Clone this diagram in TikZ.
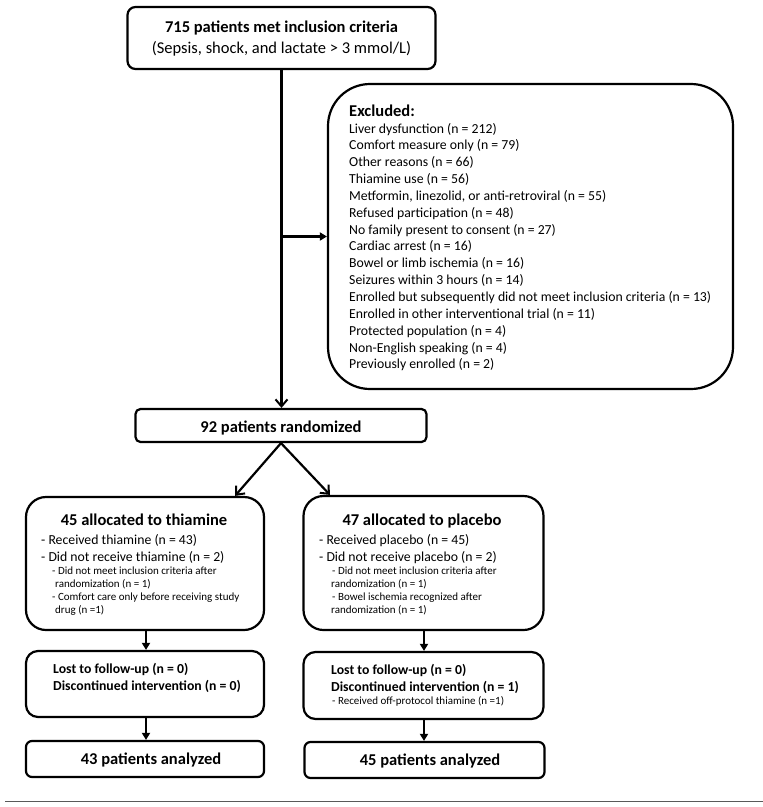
\documentclass[tikz,border=0pt]{standalone}
\usepackage{fontspec}
\setmainfont{Carlito}
\usetikzlibrary{arrows.meta}
\begin{document}
\begin{tikzpicture}[x=1pt,y=-1pt,
  box/.style={draw, line width=2.2pt, inner sep=0pt},
  big/.style={font=\fontsize{16.5}{20}\selectfont\bfseries},
  mid/.style={font=\fontsize{13.75}{16.8}\selectfont},
  midb/.style={font=\fontsize{13.75}{16.8}\selectfont\bfseries},
  small/.style={font=\fontsize{11}{13.5}\selectfont},
  txt/.style={inner sep=0pt, anchor=base west},
  ctxt/.style={inner sep=0pt, anchor=base},
  flow/.style={line width=2.2pt, -{Straight Barb[length=7pt,width=12pt,line width=2pt]}},
  flowf/.style={line width=2.2pt, -{Triangle[length=7pt,width=8pt]}}]
\useasboundingbox (0,0) rectangle (763,807);

% boxes
\node[box, rounded corners=8pt, minimum width=308pt, minimum height=62pt] (top) at (281.5,38) {};
\node[box, rounded corners=42pt, minimum width=405pt, minimum height=305pt] (excl) at (530.5,236.5) {};
\node[box, rounded corners=5pt, minimum width=291pt, minimum height=33pt] (rand) at (281,425.5) {};
\node[box, rounded corners=20pt, minimum width=238pt, minimum height=133pt] (thi) at (145,563.5) {};
\node[box, rounded corners=20pt, minimum width=240pt, minimum height=134pt] (pla) at (423.5,563) {};
\node[box, rounded corners=12pt, minimum width=238pt, minimum height=66pt] (lt) at (145,684) {};
\node[box, rounded corners=12pt, minimum width=240pt, minimum height=67pt] (lp) at (423.5,685.5) {};
\node[box, rounded corners=6pt, minimum width=238pt, minimum height=36pt] (ft) at (145,759) {};
\node[box, rounded corners=6pt, minimum width=240pt, minimum height=36pt] (fp) at (424.5,760) {};

% texts
\node[ctxt, big] (toptitle) at (281.5,32) {715 patients met inclusion criteria};
\node[ctxt, font=\fontsize{16.5}{20}\selectfont] (topsub) at (281.5,53.5) {(Sepsis, shock, and lactate > 3 mmol/L)};

\node[txt, big] (extitle) at (349,116) {Excluded:};
\foreach [count=\i from 0] \t in {
  Liver dysfunction (n = 212),
  Comfort measure only (n = 79),
  Other reasons (n = 66),
  Thiamine use (n = 56),
  {Metformin, linezolid, or anti-retroviral (n = 55)},
  Refused participation (n = 48),
  No family present to consent (n = 27),
  Cardiac arrest (n = 16),
  Bowel or limb ischemia (n = 16),
  Seizures within 3 hours (n = 14),
  Enrolled but subsequently did not meet inclusion criteria (n = 13),
  Enrolled in other interventional trial (n = 11),
  Protected population (n = 4),
  Non-English speaking (n = 4),
  Previously enrolled (n = 2)}
  \node[txt, mid] (ex\i) at (349,{133+16.85*\i}) {\t};

\node[ctxt, big] (randt) at (281,432) {92 patients randomized};

\node[ctxt, big] (thit) at (144,525) {45 allocated to thiamine};
\node[txt, mid] (thi1) at (41,544.5) {- Received thiamine (n = 43)};
\node[txt, mid] (thi2) at (41,561.5) {- Did not receive thiamine (n = 2)};
\node[txt, small] (thi3) at (52,574.5) {- Did not meet inclusion criteria after};
\node[txt, small] (thi4) at (55,587.5) {randomization (n = 1)};
\node[txt, small] (thi5) at (52,600.5) {- Comfort care only before receiving study};
\node[txt, small] (thi6) at (55,613.5) {drug (n =1)};

\node[ctxt, big] (plat) at (422,525) {47 allocated to placebo};
\node[txt, mid] (pla1) at (319,544.5) {- Received placebo (n = 45)};
\node[txt, mid] (pla2) at (319,561.5) {- Did not receive placebo (n = 2)};
\node[txt, small] (pla3) at (332,574.5) {- Did not meet inclusion criteria after};
\node[txt, small] (pla4) at (331,587.5) {randomization (n = 1)};
\node[txt, small] (pla5) at (332,600.5) {- Bowel ischemia recognized after};
\node[txt, small] (pla6) at (331,613.5) {randomization (n = 1)};

\node[txt, midb] (lt1) at (53,673) {Lost to follow-up (n = 0)};
\node[txt, midb] (lt2) at (53,690) {Discontinued intervention (n = 0)};
\node[txt, midb] (lp1) at (331,674) {Lost to follow-up (n = 0)};
\node[txt, midb] (lp2) at (331,691) {Discontinued intervention (n = 1)};
\node[txt, small] (lp3) at (332,704.5) {- Received off-protocol thiamine (n =1)};

\node[ctxt, big] (ftt) at (151,764) {43 patients analyzed};
\node[ctxt, big] (fpt) at (430,765) {45 patients analyzed};

% connectors
\coordinate (br) at (top.south |- excl.west);
\draw[flow] (top.south) -- (top.south |- rand.north);
\draw[flowf] (br) -- (excl.west);
\draw[flow] (rand.south) -- ([xshift=90pt]thi.north);
\draw[flow] (rand.south) -- ([xshift=-93.5pt]pla.north);
\draw[flowf] ([xshift=1pt]thi.south) -- ([xshift=1pt]thi.south |- lt.north);
\draw[flowf] ([xshift=0.5pt]pla.south) -- ([xshift=0.5pt]pla.south |- lp.north);
\draw[flowf] ([xshift=1pt]lt.south) -- ([xshift=1pt]lt.south |- ft.north);
\draw[flowf] ([xshift=0.5pt]lp.south) -- ([xshift=0.5pt]lp.south |- fp.north);

% bottom rule
\draw[line width=1pt, black!65] (5,801) -- (763,801);
\end{tikzpicture}
\end{document}
